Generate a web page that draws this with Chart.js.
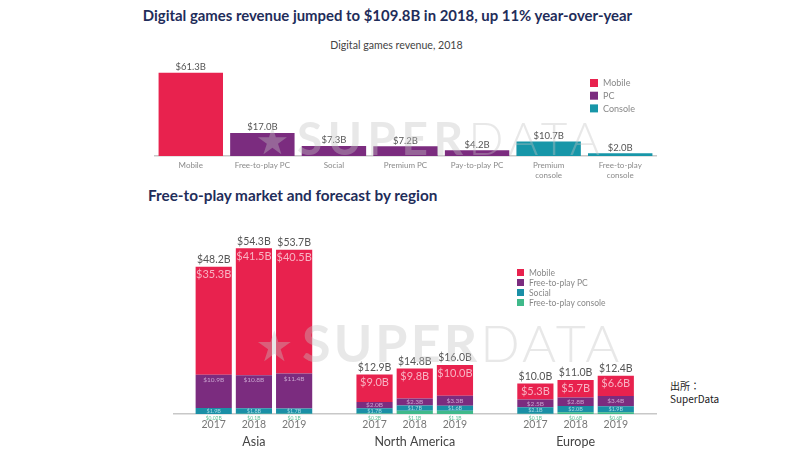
<!DOCTYPE html>
<html>
<head>
<meta charset="utf-8">
<script src="https://cdn.jsdelivr.net/npm/chart.js@4.4.1/dist/chart.umd.min.js"></script>
<style>
  body { margin: 0; width: 800px; height: 450px; background: #fff; position: relative; overflow: hidden; font-family: Lato, sans-serif; }
  .t { position: absolute; white-space: nowrap; }
  #title { left: 0; width: 775px; top: 6px; text-align: center; font-weight: bold; font-size: 14.9px; color: #1f2d5a; }
  #sub { left: 0; width: 793px; top: 39px; text-align: center; font-size: 10.6px; color: #444; }
  #title2 { left: 148px; top: 186px; font-weight: bold; font-size: 15.3px; color: #1f2d5a; }
  #src { left: 670px; top: 379px; font-size: 10px; line-height: 13px; color: #222; font-family: "Noto Sans CJK JP", sans-serif; }
  canvas { position: absolute; }
  #revChart { left: 140px; top: 55px; }
  #f2pChart { left: 140px; top: 215px; }
</style>
</head>
<body>
<div class="t" id="title">Digital games revenue jumped to $109.8B in 2018, up 11% year-over-year</div>
<div class="t" id="sub">Digital games revenue, 2018</div>
<div class="t" id="title2">Free-to-play market and forecast by region</div>
<div class="t" id="src">出所：<br>SuperData</div>
<canvas id="revChart" width="540" height="130"></canvas>
<canvas id="f2pChart" width="560" height="235"></canvas>
<script>
// top chart: digital games revenue 2018 ($B)
const revCategories = ['Mobile', 'Free-to-play PC', 'Social', 'Premium PC', 'Pay-to-play PC', ['Premium', 'console'], ['Free-to-play', 'console']];
const revValues = [61.3, 17.0, 7.3, 7.2, 4.2, 10.7, 2.0];
const revSegment = ['Mobile', 'PC', 'PC', 'PC', 'PC', 'Console', 'Console'];
const revSegmentNames = ['Mobile', 'PC', 'Console'];

// bottom chart: free-to-play by region ($B)
const regions = ['Asia', 'North America', 'Europe'];
const years = ['2017', '2018', '2019'];
const f2pSeries = ['Mobile', 'Free-to-play PC', 'Social', 'Free-to-play console'];
const f2pMobile = [35.3, 41.5, 40.5, 9.0, 9.8, 10.0, 5.3, 5.7, 6.6];
const f2pPC = [10.9, 10.8, 11.4, 2.0, 2.3, 3.3, 2.5, 2.8, 3.4];
const f2pSocial = [1.9, 1.8, 1.7, 1.7, 1.7, 1.6, 2.1, 2.0, 1.9];
const f2pConsole = [0.02, 0.1, 0.1, 0.2, 1.1, 1.1, 0.1, 0.6, 0.6];
const f2pTotals = [48.2, 54.3, 53.7, 12.9, 14.8, 16.0, 10.0, 11.0, 12.4];

const segColors = { Mobile: '#e8224e', PC: '#7b2c7f', Console: '#1796a8' };
const f2pColors = ['#e8224e', '#7b2c7f', '#1a8fa6', '#3fb98a'];

const fmt = v => '$' + (v < 0.1 ? v.toFixed(2) : v.toFixed(1)) + 'B';

function drawWatermark(ctx, x, y, size, spacing) {
  ctx.save();
  ctx.fillStyle = 'rgba(195,195,195,0.38)';
  ctx.textBaseline = 'alphabetic';
  ctx.textAlign = 'left';
  ctx.font = (size * 0.82) + 'px "DejaVu Sans"';
  ctx.fillText('★', x - size * 0.9, y - size * 0.02);
  ctx.letterSpacing = (size * spacing) + 'px';
  ctx.font = 'bold ' + size + 'px Lato';
  ctx.fillText('SUPER', x, y);
  const w = ctx.measureText('SUPER').width;
  ctx.font = '300 ' + size + 'px Lato';
  ctx.fillText('DATA', x + w, y);
  ctx.restore();
}

function drawLegend(ctx, names, colors, x, y, box, step, fontSize) {
  ctx.save();
  ctx.font = fontSize + 'px Lato';
  ctx.textBaseline = 'middle';
  ctx.textAlign = 'left';
  names.forEach((n, i) => {
    ctx.fillStyle = colors[i];
    ctx.fillRect(x, y + i * step, box, box);
    ctx.fillStyle = '#888';
    ctx.fillText(n, x + box + 5, y + i * step + box / 2 + 0.5);
  });
  ctx.restore();
}

new Chart(document.getElementById('revChart').getContext('2d'), {
  type: 'bar',
  data: {
    labels: revCategories,
    datasets: revSegmentNames.map(name => ({
      label: name,
      data: revValues.map((v, i) => revSegment[i] === name ? v : null),
      backgroundColor: segColors[name],
      barPercentage: 0.9,
      categoryPercentage: 1
    }))
  },
  options: {
    responsive: false,
    animation: false,
    layout: { padding: { left: 15, right: 24, top: 10, bottom: 0 } },
    plugins: { legend: { display: false }, tooltip: { enabled: false } },
    scales: {
      x: {
        stacked: true,
        grid: { display: false, drawTicks: false },
        border: { color: '#c8c8c8', width: 1.5 },
        ticks: { color: '#8a8a8a', font: { family: 'Lato', size: 8 }, padding: 5, maxRotation: 0, autoSkip: false },
        afterFit: s => { s.height = 29; }
      },
      y: { display: false, stacked: true, min: 0, max: 67 }
    }
  },
  plugins: [{
    id: 'revLabels',
    afterDatasetsDraw(chart) {
      const ctx = chart.ctx;
      ctx.save();
      ctx.font = '9.5px Lato';
      ctx.fillStyle = '#555';
      ctx.textAlign = 'center';
      ctx.textBaseline = 'bottom';
      chart.data.datasets.forEach((ds, di) => {
        chart.getDatasetMeta(di).data.forEach((bar, i) => {
          if (ds.data[i] == null) return;
          ctx.fillText(fmt(ds.data[i]), bar.x, bar.y - 1);
        });
      });
      ctx.restore();
      drawLegend(ctx, revSegmentNames, revSegmentNames.map(n => segColors[n]), 450, 24, 8, 12.7, 9);
    },
    afterDraw(chart) {
      drawWatermark(chart.ctx, 157, 100, 46, 0.12);
    }
  }]
});

// spread the 9 bars into 3 groups with a blank slot between regions
const withGaps = arr => {
  const out = [null];
  regions.forEach((r, g) => { out.push(...arr.slice(g * 3, g * 3 + 3), null); });
  return out;
};
const f2pLabels = withGaps(years.concat(years, years)).map(v => v || '');
const f2pData = [f2pMobile, f2pPC, f2pSocial, f2pConsole];

// console at the bottom of the stack, mobile on top
new Chart(document.getElementById('f2pChart').getContext('2d'), {
  type: 'bar',
  data: {
    labels: f2pLabels,
    datasets: f2pSeries.map((name, i) => ({
      label: name,
      data: withGaps(f2pData[i]),
      backgroundColor: f2pColors[i],
      barPercentage: 0.9,
      categoryPercentage: 1
    })).reverse()
  },
  options: {
    responsive: false,
    animation: false,
    layout: { padding: { left: 33.5, right: 44, top: 15.4, bottom: 0 } },
    plugins: { legend: { display: false }, tooltip: { enabled: false } },
    scales: {
      x: {
        stacked: true,
        offset: false,
        grid: { display: false, drawTicks: false },
        border: { color: '#c8c8c8', width: 1.5 },
        ticks: { color: '#777', font: { family: 'Lato', size: 10.5 }, padding: 4, maxRotation: 0, autoSkip: false },
        afterFit: s => { s.height = 36; }
      },
      y: { display: false, stacked: true, min: 0, max: 60 }
    }
  },
  plugins: [{
    id: 'f2pLabels',
    afterDatasetsDraw(chart) {
      const ctx = chart.ctx;
      const area = chart.chartArea;
      const metaOf = name => chart.getDatasetMeta(chart.data.datasets.findIndex(d => d.label === name));
      const mob = metaOf('Mobile'), pc = metaOf('Free-to-play PC'), soc = metaOf('Social');
      ctx.save();
      ctx.textAlign = 'center';
      ctx.textBaseline = 'middle';
      const idx = withGaps(f2pTotals.map((v, i) => i));
      idx.forEach((k, slot) => {
        if (k == null) return;
        const m = mob.data[slot], p = pc.data[slot], s = soc.data[slot];
        ctx.font = '10.5px Lato';
        ctx.fillStyle = '#555';
        ctx.fillText(fmt(f2pTotals[k]), m.x, m.y - 7);
        ctx.font = '11px Lato';
        ctx.fillStyle = '#f8b3c3';
        ctx.fillText(fmt(f2pMobile[k]), m.x, m.y + 8);
        ctx.font = '6.5px Lato';
        ctx.fillStyle = '#caa3cf';
        ctx.fillText(fmt(f2pPC[k]), p.x, p.y + Math.min(5, (p.base - p.y) / 2));
        ctx.font = '5.5px Lato';
        ctx.fillStyle = '#a6dbe4';
        ctx.fillText(fmt(f2pSocial[k]), s.x, (s.y + s.base) / 2);
        ctx.font = '5px Lato';
        ctx.fillStyle = '#5cbf95';
        ctx.fillText(fmt(f2pConsole[k]), s.x, area.bottom + 4);
      });
      ctx.font = '12.5px Lato';
      ctx.fillStyle = '#444';
      regions.forEach((r, g) => {
        ctx.fillText(r, chart.scales.x.getPixelForValue(g * 4 + 2), area.bottom + 28);
      });
      ctx.restore();
      drawLegend(ctx, f2pSeries, f2pColors, 377, 54, 7, 10, 8.5);
    },
    afterDraw(chart) {
      drawWatermark(chart.ctx, 162, 147, 52, 0.06);
    }
  }]
});
</script>
</body>
</html>
